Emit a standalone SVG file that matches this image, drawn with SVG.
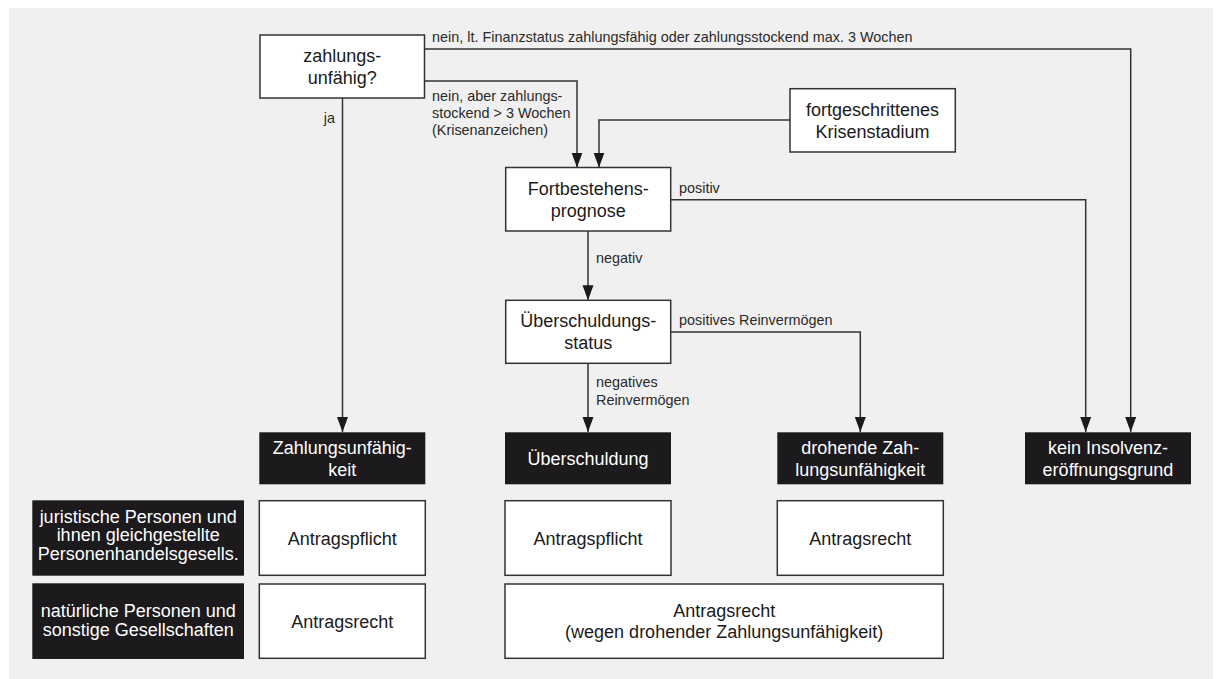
<svg xmlns="http://www.w3.org/2000/svg" width="1217" height="679" viewBox="0 0 1217 679">
<style>
.bg{fill:#f0f0f0}
.wb{fill:#ffffff;stroke:#333333;stroke-width:1.5}
.bb{fill:#1c1a1c;stroke:none}
.t{font-family:"Liberation Sans",Arial,sans-serif;font-size:18px;text-anchor:middle;fill:#1a1a1a}
.tw{font-family:"Liberation Sans",Arial,sans-serif;font-size:18px;text-anchor:middle;fill:#ffffff}
.lb{font-family:"Liberation Sans",Arial,sans-serif;font-size:14.4px;fill:#2a2a2a}
.c{fill:none;stroke:#333333;stroke-width:1.5}
</style>
<defs>
<marker id="ah" markerUnits="userSpaceOnUse" markerWidth="16" markerHeight="12" refX="15" refY="5.5" orient="auto">
<path d="M0,0 L15,5.5 L0,11 z" fill="#1a1a1a"/>
</marker>
</defs>
<rect class="bg" x="9" y="8" width="1204" height="671"/>

<g id="connectors">
<path class="c" d="M424,49 H1130.7 V432" marker-end="url(#ah)"/>
<path class="c" d="M424,81 H577 V167.5" marker-end="url(#ah)"/>
<path class="c" d="M790,120 H599 V167.5" marker-end="url(#ah)"/>
<path class="c" d="M342.5,98 V432" marker-end="url(#ah)"/>
<path class="c" d="M670.5,199.7 H1085.7 V432" marker-end="url(#ah)"/>
<path class="c" d="M588,231 V300.3" marker-end="url(#ah)"/>
<path class="c" d="M671,332 H860.3 V432" marker-end="url(#ah)"/>
<path class="c" d="M588,363.3 V432" marker-end="url(#ah)"/>
<text class="lb" x="432" y="42">nein, lt. Finanzstatus zahlungsfähig oder zahlungsstockend max. 3 Wochen</text>
<text class="lb" x="432" y="101">nein, aber zahlungs-</text>
<text class="lb" x="432" y="118">stockend &gt; 3 Wochen</text>
<text class="lb" x="432" y="135">(Krisenanzeichen)</text>
<text class="lb" x="335" y="122.5" text-anchor="end">ja</text>
<text class="lb" x="679" y="193">positiv</text>
<text class="lb" x="596" y="263">negativ</text>
<text class="lb" x="679" y="325">positives Reinvermögen</text>
<text class="lb" x="596" y="386.5">negatives</text>
<text class="lb" x="596" y="404.5">Reinvermögen</text>
</g>

<g id="n-zahlungsunfaehig">
<rect class="wb" x="260" y="35" width="164.5" height="63"/>
<text class="t" x="342.2" y="62">zahlungs-</text>
<text class="t" x="342.2" y="84">unfähig?</text>
</g>
<g id="n-krisenstadium">
<rect class="wb" x="790" y="88.7" width="165.3" height="63.3"/>
<text class="t" x="872.6" y="115.8">fortgeschrittenes</text>
<text class="t" x="872.6" y="137.8">Krisenstadium</text>
</g>
<g id="n-fortbestehen">
<rect class="wb" x="505.7" y="167.5" width="165" height="63.5"/>
<text class="t" x="588.2" y="194.8">Fortbestehens-</text>
<text class="t" x="588.2" y="216.8">prognose</text>
</g>
<g id="n-ueberschuldungsstatus">
<rect class="wb" x="505.7" y="300.3" width="165" height="63"/>
<text class="t" x="588.2" y="327.3">Überschuldungs-</text>
<text class="t" x="588.2" y="349.3">status</text>
</g>

<g id="n-zahlungsunfaehigkeit">
<rect class="bb" x="259.3" y="432.3" width="166" height="52"/>
<text class="tw" x="342.3" y="453.8">Zahlungsunfähig-</text>
<text class="tw" x="342.3" y="475.8">keit</text>
</g>
<g id="n-ueberschuldung">
<rect class="bb" x="505" y="432.3" width="166" height="52"/>
<text class="tw" x="588" y="464.8">Überschuldung</text>
</g>
<g id="n-drohende">
<rect class="bb" x="777.3" y="432.3" width="166" height="52"/>
<text class="tw" x="860.3" y="453.8">drohende Zah-</text>
<text class="tw" x="860.3" y="475.8">lungsunfähigkeit</text>
</g>
<g id="n-kein">
<rect class="bb" x="1025" y="432.3" width="166" height="52"/>
<text class="tw" x="1108" y="453.8">kein Insolvenz-</text>
<text class="tw" x="1108" y="475.8">eröffnungsgrund</text>
</g>

<g id="n-juristische">
<rect class="bb" x="32.3" y="500.3" width="211.7" height="75.4"/>
<text class="tw" x="138.2" y="522.5">juristische Personen und</text>
<text class="tw" x="138.2" y="541">ihnen gleichgestellte</text>
<text class="tw" x="138.2" y="559.5">Personenhandelsgesells.</text>
</g>
<g id="n-natuerliche">
<rect class="bb" x="32.3" y="583.3" width="211.7" height="75.7"/>
<text class="tw" x="138.2" y="617.2">natürliche Personen und</text>
<text class="tw" x="138.2" y="636.2">sonstige Gesellschaften</text>
</g>

<g id="n-antragspflicht-1">
<rect class="wb" x="259.3" y="500.7" width="166" height="74.6"/>
<text class="t" x="342.3" y="544.5">Antragspflicht</text>
</g>
<g id="n-antragsrecht-1">
<rect class="wb" x="259.3" y="584" width="166" height="74.3"/>
<text class="t" x="342.3" y="627.7">Antragsrecht</text>
</g>
<g id="n-antragspflicht-2">
<rect class="wb" x="505" y="500.7" width="166" height="74.6"/>
<text class="t" x="588" y="544.5">Antragspflicht</text>
</g>
<g id="n-antragsrecht-3">
<rect class="wb" x="777.3" y="500.7" width="166" height="74.6"/>
<text class="t" x="860.3" y="544.5">Antragsrecht</text>
</g>
<g id="n-antragsrecht-wide">
<rect class="wb" x="505" y="584" width="438.3" height="74.3"/>
<text class="t" x="724.2" y="617.2">Antragsrecht</text>
<text class="t" x="724.2" y="638.2">(wegen drohender Zahlungsunfähigkeit)</text>
</g>
</svg>
